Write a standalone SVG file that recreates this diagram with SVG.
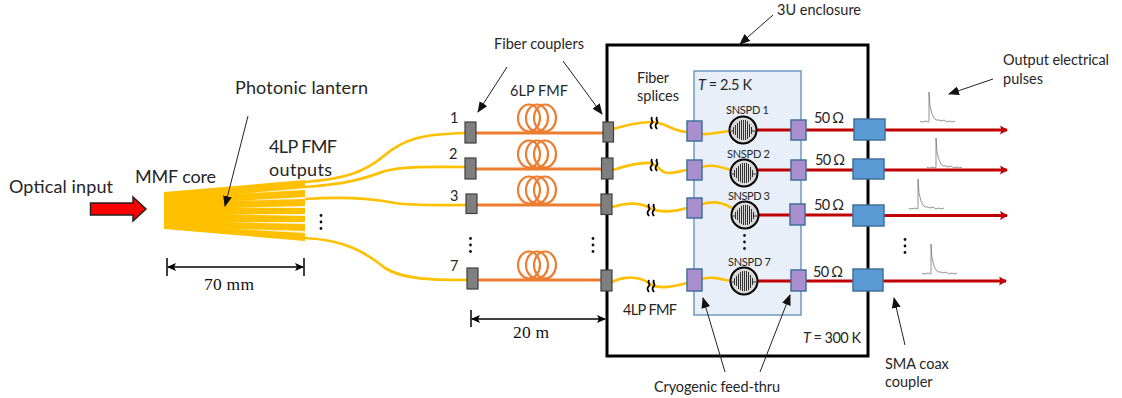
<svg xmlns="http://www.w3.org/2000/svg" width="1122" height="398" viewBox="0 0 1122 398">
<style>
text{font-family:Lato,"Open Sans",sans-serif;font-size:18px;fill:#262626}
.ser{font-family:"Liberation Serif",serif;font-size:17.500px;fill:#111}
.s{font-size:14.500px}
.sm{font-size:11px}
.y{fill:none;stroke:#ffc000;stroke-width:2.700}
.o{fill:none;stroke:#ed7d31;stroke-width:2.800}
.c{fill:none;stroke:#ed7d31;stroke-width:2.200}
.r{fill:none;stroke:#c00000;stroke-width:3}
.rm{fill:none;stroke:#c00000;stroke-width:3;marker-end:url(#ra)}
.k{fill:none;stroke:#222;stroke-width:1;marker-end:url(#ka)}
.dim{fill:none;stroke:#000;stroke-width:1.400;marker-start:url(#da);marker-end:url(#da)}
.t{stroke:#000;stroke-width:1.500}
.cp{fill:#7f7f7f;stroke:#404040;stroke-width:1.200}
.pu{fill:#a98ed0;stroke:#41719c;stroke-width:1.500}
.bl{fill:#5b9bd5;stroke:#41719c;stroke-width:1.500}
.d{fill:#111}
</style>
<defs>
<marker id="ka" markerWidth="11" markerHeight="9" refX="10" refY="4.500" orient="auto" markerUnits="userSpaceOnUse"><path d="M0 0L11 4.500L0 9Z" fill="#111"/></marker>
<marker id="ra" markerWidth="8" markerHeight="9" refX="7" refY="4.500" orient="auto" markerUnits="userSpaceOnUse"><path d="M0 0L8 4.500L0 9L1.500 4.500Z" fill="#c00000"/></marker>
<marker id="da" markerWidth="9" markerHeight="8" refX="8" refY="4" orient="auto-start-reverse" markerUnits="userSpaceOnUse"><path d="M0 0L9 4L0 8L2 4Z" fill="#000"/></marker>
<linearGradient id="st" x1="0" x2="1" y1="0" y2="0"><stop offset="0" stop-color="#fff" stop-opacity="0"/><stop offset="0.500" stop-color="#fff" stop-opacity="0.700"/><stop offset="1" stop-color="#fff" stop-opacity="0.900"/></linearGradient>
<g id="coil"><ellipse class="c" cx="-8" cy="-14" rx="11" ry="13.500"/><ellipse class="c" cx="0" cy="-14" rx="11" ry="13.500"/><ellipse class="c" cx="8" cy="-14" rx="11" ry="13.500"/></g>
<g id="sq" fill="none" stroke="#000" stroke-width="1.800"><path d="M-3-6C-5-3-1-2-3 0S-5 3-3 6"/><path d="M2-6C0-3 4-2 2 0S0 3 2 6"/></g>
<g id="sn"><circle r="13.500" fill="#d8d8d8" stroke="#000" stroke-width="2"/><path d="M-12 1H-9.500M-9.500 -3V4M-7.500 -5V5M-5.500 -7V8M-3.500 -9V9M-1.500 -10V10M0.500 -10V10M2.500 -10V10M4.500 -9V9M6.500 -6V7M8.500 -3V4M8.500 1H12" fill="none" stroke="#333" stroke-width="1"/></g>
<path id="pl" d="M0 0.500L3 1L6 0L8 1L9 0.500V-29L10 -15L12 -7L14 -3L16 -1L19 -1L21 0L24 -1L27 1L30 0L32 1L35 0" fill="none" stroke="#777" stroke-width="0.800"/>
<g id="dots"><circle class="d" cy="-6.500" r="1.400"/><circle class="d" r="1.400"/><circle class="d" cy="6.500" r="1.400"/></g>
</defs>

<g id="lantern">
<path d="M164 192L305 180V241L164 229Z" fill="#ffc000"/>
<path d="M238 194L305 188V190ZM232 201L305 197V199ZM228 208L305 206V208ZM212 214L305 214V216ZM212 222L305 222V224ZM212 228L305 231V233Z" fill="url(#st)"/>
<text x="235" y="94" textLength="133">Photonic lantern</text>
<text x="135" y="183" textLength="81">MMF core</text>
<text x="269" y="153" textLength="68">4LP FMF</text>
<text x="269" y="176" textLength="63">outputs</text>
<use href="#dots" x="321" y="222"/>
<text class="ser" x="204" y="290" textLength="50">70 mm</text>
</g>

<g id="input-arrow"><path d="M90.500 203H133V197L146 209L133 221V215H90.500Z" fill="#f00" stroke="#222" stroke-width="1.500"/><text x="9" y="193" textLength="104">Optical input</text></g>

<g id="enclosure"><rect x="607" y="45" width="261" height="311" fill="none" stroke="#000" stroke-width="3"/>
<text class="s" x="777" y="15" textLength="84">3U enclosure</text>
<text class="s" x="803" y="343" textLength="58"><tspan font-style="italic">T</tspan> = 300 K</text></g>

<g id="cryostat"><rect x="694" y="71" width="107" height="244" fill="#e9eff8" stroke="#6f9bc0" stroke-width="1.500"/>
<text class="s" x="698" y="90" textLength="54"><tspan font-style="italic">T</tspan> = 2.5 K</text>
<use href="#dots" x="744.500" y="242"/></g>

<g id="connectors">
<path class="y" d="M305 182C345 179 365 172 385 155C403 140 420 134 465 133"/>
<path class="y" d="M305 187C350 184 365 178 385 171C405 166 430 167 465 167"/>
<path class="y" d="M305 199C350 196 375 199 395 203C415 206 440 205 467 205"/>
<path class="y" d="M305 238C345 240 365 252 385 268C402 279 430 280 467 280"/>
<path class="o" d="M476 133H603M476 169H602M477 205H601M478 280H601"/>
<path class="y" d="M613 129C630 124 640 122 652 122C665 122 672 131 687 132"/>
<path class="y" d="M613 170C628 165 640 162 651 163C660 166 660 173 668 173C675 173 680 171 687 170"/>
<path class="y" d="M612 207C625 203 640 202 650 208C660 213 675 212 687 208"/>
<path class="y" d="M612 282C625 276 640 276 650 284C660 290 675 286 687 283"/>
<path class="y" d="M702 134C710 135 718 132 730 131"/>
<path class="y" d="M702 167C712 164 720 167 731 170"/>
<path class="y" d="M702 204C712 201 722 202 732 208"/>
<path class="y" d="M702 279C712 276 720 279 731 281"/>
<path class="r" d="M757 130H791M806 130H854M758 170H791M806 170H853M759 215H790M805 215H853M758 281H791M806 281H853"/>
<path class="rm" d="M885 130H1007"/>
<path class="rm" d="M884 170H1007"/>
<path class="rm" d="M884 215.500H1007"/>
<path class="rm" d="M883 281H1006"/>
<path class="k" d="M248 116L225 206"/>
<path class="k" d="M507 67L478 112"/>
<path class="k" d="M563 61L602 114"/>
<path class="k" d="M773 15L740 44"/>
<path class="k" d="M993 79L949 94"/>
<path class="k" d="M725 372L703 298"/>
<path class="k" d="M760 372L790 295"/>
<path class="k" d="M905 345L894 298"/>
<path class="dim" d="M168 267H303"/>
<path class="t" d="M167 258V276M304 258V276"/>
<path class="dim" d="M472 319H605"/>
<path class="t" d="M471 310V327"/>
</g>

<g id="labels">
<text class="s" x="494" y="49" textLength="90">Fiber couplers</text>
<text class="s" x="510" y="96" textLength="58">6LP FMF</text>
<text class="s" x="637" y="83" textLength="32">Fiber</text>
<text class="s" x="637" y="101" textLength="42">splices</text>
<text class="s" x="623" y="315" textLength="54">4LP FMF</text>
<text class="ser" x="513" y="338" textLength="36">20 m</text>
<text class="s" x="654" y="392" textLength="126">Cryogenic feed-thru</text>
<text class="s" x="885" y="369">SMA coax</text>
<text class="s" x="885" y="387">coupler</text>
<text class="s" x="1003" y="65" textLength="106">Output electrical</text>
<text class="s" x="1003" y="84" textLength="40">pulses</text>
<use href="#dots" x="470.500" y="245"/>
<use href="#dots" x="593" y="245"/>
<use href="#dots" x="905" y="246"/>
</g>

<g id="ch1">
<rect class="cp" x="465" y="122" width="11" height="21"/><text class="s" x="450" y="123">1</text>
<use href="#coil" x="537" y="132"/>
<rect class="cp" x="603" y="122" width="10.500" height="20"/>
<use href="#sq" x="655" y="123"/>
<rect class="pu" x="687" y="121" width="15" height="20"/>
<use href="#sn" x="743" y="130"/><text class="sm" x="726" y="114" textLength="43">SNSPD 1</text>
<rect class="pu" x="791" y="120" width="15" height="20"/>
<text class="s" x="814" y="123" textLength="30">50 Ω</text>
<rect class="bl" x="854" y="119" width="31" height="21"/>
<use href="#pl" x="920" y="121"/>
</g>
<g id="ch2">
<rect class="cp" x="465" y="158" width="11" height="21"/><text class="s" x="449" y="159">2</text>
<use href="#coil" x="537" y="168"/>
<rect class="cp" x="601.500" y="158" width="11.500" height="21"/>
<use href="#sq" x="655" y="165"/>
<rect class="pu" x="687" y="160" width="15" height="20"/>
<use href="#sn" x="744" y="173"/><text class="sm" x="727" y="158" textLength="43">SNSPD 2</text>
<rect class="pu" x="791" y="160" width="15" height="20"/>
<text class="s" x="815" y="165" textLength="30">50 Ω</text>
<rect class="bl" x="853" y="159" width="31" height="20"/>
<use href="#pl" x="927" y="167"/>
</g>
<g id="ch3">
<rect class="cp" x="466" y="194" width="11" height="19.500"/><text class="s" x="450" y="201">3</text>
<use href="#coil" x="537" y="204"/>
<rect class="cp" x="601" y="194" width="11" height="20.500"/>
<use href="#sq" x="652" y="210"/>
<rect class="pu" x="687" y="198" width="15" height="20"/>
<use href="#sn" x="745" y="215"/><text class="sm" x="728" y="200" textLength="42">SNSPD 3</text>
<rect class="pu" x="790" y="204" width="15" height="21"/>
<text class="s" x="814" y="210" textLength="30">50 Ω</text>
<rect class="bl" x="853" y="205" width="31" height="21"/>
<use href="#pl" x="909" y="208"/>
</g>
<g id="ch7">
<rect class="cp" x="467" y="268" width="11" height="21"/><text class="s" x="450" y="271">7</text>
<use href="#coil" x="537" y="279"/>
<rect class="cp" x="601" y="270" width="11" height="21"/>
<use href="#sq" x="652" y="286"/>
<rect class="pu" x="687" y="269" width="15" height="22"/>
<use href="#sn" x="744" y="281"/><text class="sm" x="728" y="266" textLength="43">SNSPD 7</text>
<rect class="pu" x="791" y="270" width="15" height="21"/>
<text class="s" x="813" y="277" textLength="30">50 Ω</text>
<rect class="bl" x="853" y="269" width="30" height="22"/>
<use href="#pl" x="922" y="273"/>
</g>
</svg>
